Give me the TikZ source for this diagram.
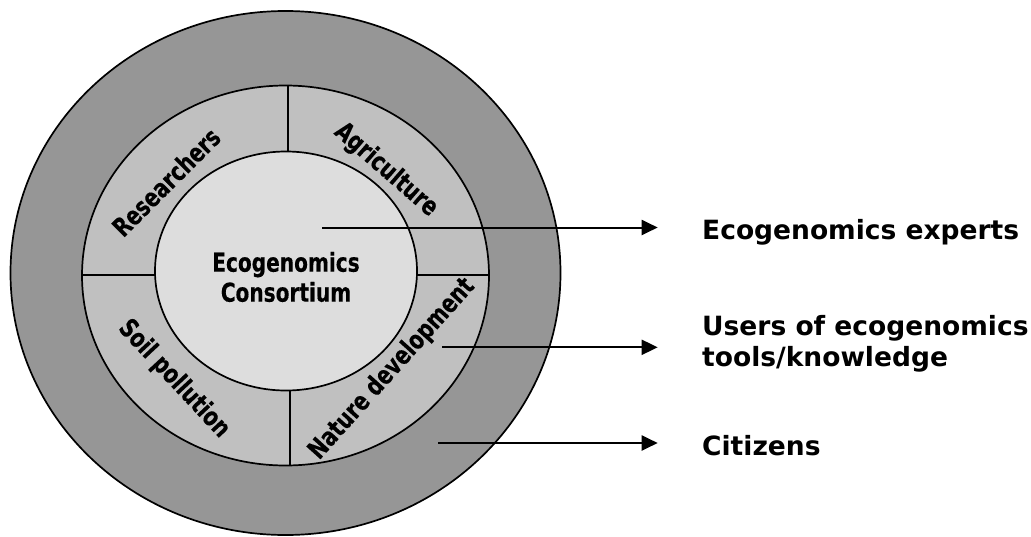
\documentclass[tikz,border=0pt]{standalone}
\usepackage{fontspec}
\usetikzlibrary{arrows.meta}
\newfontfamily\ringfont{DejaVu Sans Condensed}[FakeStretch=0.86,FakeBold=0.3]
\newfontfamily\keyfont{DejaVu Sans}
\definecolor{outergray}{HTML}{969696}
\definecolor{ringgray}{HTML}{C0C0C0}
\definecolor{coregray}{HTML}{DDDDDD}
\begin{document}
\begin{tikzpicture}[x=1pt,y=-1pt,
  edge/.style={line width=1.7pt},
  pointer/.style={line width=2pt,-{Triangle[length=16pt,width=15pt]}},
  sector/.style={font=\ringfont\bfseries\fontsize{26}{30}\selectfont,inner sep=0pt},
  keylabel/.style={font=\keyfont\bfseries\fontsize{26.5}{31}\selectfont,inner sep=0pt,align=left}]
\useasboundingbox (0,0) rectangle (1031,536);

% three nested rings
\draw[edge,fill=outergray] (285.5,273) ellipse [x radius=275,y radius=262];
\draw[edge,fill=ringgray] (285.5,275.5) ellipse [x radius=203.5,y radius=190];
% sector dividers
\draw[edge] (82,274.7) -- (160,274.7);
\draw[edge] (412,274.7) -- (489,274.7);
\draw[edge] (288,85) -- (288,158);
\draw[edge] (290,385) -- (290,466);
\draw[edge,fill=coregray] (286,271) ellipse [x radius=131,y radius=119.5];

% labels on the circles
\node[sector,align=center] (core) at (286,277) {Ecogenomics\\Consortium};
\node[sector,rotate=45] (res) at (166,182) {Researchers};
\node[sector,rotate=-41] (agr) at (386,170) {Agriculture};
\node[sector,rotate=-47] (soil) at (174,379) {Soil pollution};
\node[sector,rotate=48] (nat) at (392,369) {Nature development};

% legend texts
\node[keylabel,anchor=base west] (k1) at (702,239) {Ecogenomics experts};
\node[keylabel,anchor=west] (k2) at (702,344) {Users of ecogenomics\\tools/knowledge};
\node[keylabel,anchor=base west] (k3) at (702,455) {Citizens};

% pointers from each ring to its legend entry
\coordinate (s1) at (322,227.5);
\coordinate (s2) at (442,347.3);
\coordinate (s3) at (438,443);
\coordinate (e1) at (657.7,227.5);
\coordinate (e2) at (657.7,347.3);
\coordinate (e3) at (657.7,443);
\draw[pointer] (s1) -- (e1);
\draw[pointer] (s2) -- (e2);
\draw[pointer] (s3) -- (e3);
\end{tikzpicture}
\end{document}
